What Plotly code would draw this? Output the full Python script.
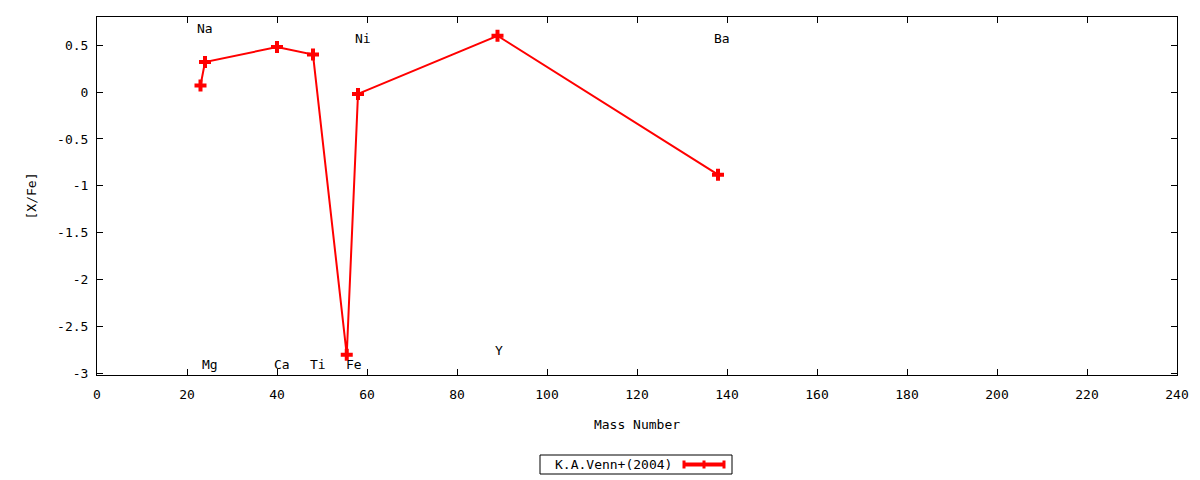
import plotly.graph_objects as go

# data
elements = ["Na", "Mg", "Ca", "Ti", "Fe", "Ni", "Y", "Ba"]
mass = [23, 24, 40, 48, 55.5, 58, 89, 138]
x_fe = [0.07, 0.32, 0.48, 0.40, -2.80, -0.02, 0.60, -0.88]

# label positions (as drawn)
label_x = [24.0, 25.1, 41.2, 49.2, 57.2, 59.1, 89.4, 138.9]
label_y = [0.68, -2.90, -2.90, -2.90, -2.90, 0.57, -2.75, 0.57]

x_ticks = list(range(0, 241, 20))
y_ticks = [0.5, 0, -0.5, -1, -1.5, -2, -2.5, -3]
y_tick_text = ["0.5", "0", "-0.5", "-1", "-1.5", "-2", "-2.5", "-3"]

series_name = "K.A.Venn+(2004)"

FONT = "DejaVu Sans Mono"
FS = 13

# page offset (body margin) compensation
OX, OY = 8, 8
L, R, T, B = 97 - OX, 23, 17 - OY, 105
W, H = 1200 - OX, 480 - OY
PW, PH = 1080, 358  # plot area size


def px_to_paper_x(px):
    return (px - 97) / PW


def px_to_paper_y(py):
    return (375 - py) / PH


fig = go.Figure()
fig.add_trace(go.Scatter(
    x=mass, y=x_fe, mode="lines+markers",
    line=dict(color="#ff0000", width=2),
    marker=dict(symbol="cross", size=10, color="#ff0000", line=dict(width=0)),
    showlegend=False, name=series_name,
))

for el, lx, ly in zip(elements, label_x, label_y):
    fig.add_annotation(x=lx, y=ly, text=el, showarrow=False,
                       xanchor="center", yanchor="middle",
                       font=dict(family=FONT, size=FS, color="black"))

# custom legend (text then sample)
fig.add_shape(type="rect", xref="paper", yref="paper",
              x0=px_to_paper_x(540), x1=px_to_paper_x(732),
              y0=px_to_paper_y(474), y1=px_to_paper_y(455),
              line=dict(color="black", width=1), fillcolor="white")
ly = px_to_paper_y(464.5)
fig.add_annotation(xref="paper", yref="paper",
                   x=px_to_paper_x(674), y=ly,
                   text=series_name, showarrow=False, xanchor="right",
                   yanchor="middle", font=dict(family=FONT, size=FS, color="black"))
fig.add_shape(type="line", xref="paper", yref="paper",
              x0=px_to_paper_x(683), x1=px_to_paper_x(725), y0=ly, y1=ly,
              line=dict(color="#ff0000", width=4))
for px in (684, 704, 724):
    fig.add_shape(type="line", xref="paper", yref="paper",
                  x0=px_to_paper_x(px), x1=px_to_paper_x(px),
                  y0=ly - 4 / PH, y1=ly + 4 / PH,
                  line=dict(color="#ff0000", width=3))

fig.update_layout(
    width=W, height=H,
    margin=dict(l=L, r=R, t=T, b=B),
    paper_bgcolor="white", plot_bgcolor="white",
    font=dict(family=FONT, size=FS, color="black"),
    showlegend=False,
)
fig.update_xaxes(
    range=[0, 240], tickvals=x_ticks, ticktext=[str(v) for v in x_ticks],
    ticks="inside", ticklen=6, tickcolor="black", mirror="ticks",
    ticklabelstandoff=7,
    showline=True, linecolor="black", linewidth=1, showgrid=False, zeroline=False,
    title=dict(text="Mass Number", standoff=19, font=dict(family=FONT, size=FS)),
)
fig.update_yaxes(
    range=[-3.015, 0.8], tickvals=y_ticks, ticktext=y_tick_text,
    ticks="inside", ticklen=6, tickcolor="black", mirror="ticks",
    ticklabelstandoff=5,
    showline=True, linecolor="black", linewidth=1, showgrid=False, zeroline=False,
    title=dict(text="[X/Fe]", standoff=17, font=dict(family=FONT, size=FS)),
)

fig.write_html("out.html")
